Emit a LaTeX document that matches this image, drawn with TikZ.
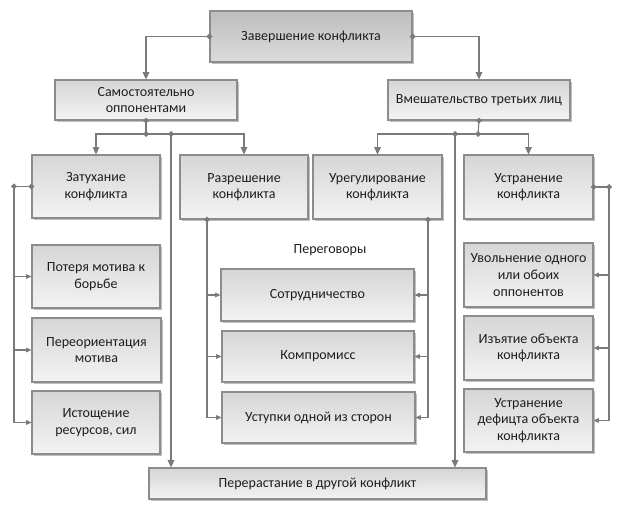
\documentclass[tikz,border=0pt]{standalone}
\usepackage{fontspec}
\setmainfont{Carlito}
\usetikzlibrary{arrows.meta,shadows}
\definecolor{lineC}{HTML}{7A7A7A}
\definecolor{edgeC}{HTML}{8C8C8C}
\definecolor{boxTop}{HTML}{D6D6D6}
\definecolor{boxBot}{HTML}{F3F3F3}
\definecolor{topTop}{HTML}{BDBDBD}
\definecolor{topBot}{HTML}{DCDCDC}
\definecolor{txt}{HTML}{1E1E1E}
\tikzset{
  box/.style={draw=edgeC, line width=0.8pt, top color=boxTop, bottom color=boxBot,
    drop shadow={shadow xshift=1.2pt, shadow yshift=-1.2pt, opacity=0.25, fill=black},
    inner sep=0pt, align=center, text=txt, font=\fontsize{10.5}{12.5}\selectfont},
  topbox/.style={box, top color=topTop, bottom color=topBot},
  conn/.style={draw=lineC, line width=0.8pt},
  arr/.style={conn, -{Triangle[length=5.5pt,width=5pt]}},
  sarr/.style={conn, -{Triangle[length=4pt,width=3.5pt]}},
  lbl/.style={inner sep=0pt, text=txt, font=\fontsize{10.5}{12.5}\selectfont}
}
\newcommand{\bx}[7]{% style, name, x1, y1, x2, y2, text
  \node[#1, minimum width={(#5-#3)*0.75pt}, minimum height={(#6-#4)*0.75pt}]
    (#2) at ({(#3+#5)/2},{(#4+#6)/2}) {#7};}
\newcommand{\dmd}[1]{\fill[lineC] (#1) +(0,3) -- +(3,0) -- +(0,-3) -- +(-3,0) -- cycle;}
\begin{document}
\begin{tikzpicture}[x=0.75pt,y=-0.75pt]
\useasboundingbox[fill=white] (0,0) rectangle (624,513);
% boxes
\bx{topbox}{top}{210}{11}{412}{62}{Завершение конфликта}
\bx{box}{samo}{55}{80}{237}{120}{Самостоятельно\\оппонентами}
\bx{box}{vm}{388}{80}{570}{120}{Вмешательство третьих лиц}
\bx{box}{zat}{32}{155}{160}{218}{Затухание\\конфликта}
\bx{box}{raz}{180}{155}{308}{219}{Разрешение\\конфликта}
\bx{box}{ureg}{313}{155}{442}{219}{Урегулирование\\конфликта}
\bx{box}{ustr}{464}{155}{593}{219}{Устранение\\конфликта}
\bx{box}{pot}{32}{245}{160}{308}{Потеря мотива к\\борьбе}
\bx{box}{pereo}{32}{318}{161}{382}{Переориентация\\мотива}
\bx{box}{ist}{32}{391}{160}{454}{Истощение\\ресурсов, сил}
\node[lbl] (neg) at (330,250) {Переговоры};
\bx{box}{sot}{221}{269}{414}{321}{Сотрудничество}
\bx{box}{kom}{222}{331}{414}{382}{Компромисс}
\bx{box}{ust}{222}{392}{415}{443}{Уступки одной из сторон}
\bx{box}{uvol}{464}{243}{593}{307}{Увольнение одного\\или обоих\\оппонентов}
\bx{box}{izy}{464}{316}{593}{380}{Изъятие объекта\\конфликта}
\bx{box}{def}{464}{389}{593}{452}{Устранение\\дефицта объекта\\конфликта}
\bx{box}{pere}{149}{468}{486}{499}{Перерастание в другой конфликт}
% junction coordinates
\coordinate (jL) at (146,134);
\coordinate (jLs) at (171,134);
\coordinate (jR) at (478,134);
\coordinate (jRs) at (455,134);
\coordinate (busL) at (14,0);
\coordinate (busM) at (207,0);
\coordinate (busN) at (428,0);
\coordinate (busR) at (609,0);
% top level
\draw[arr] (top.west) -| (samo.north);
\draw[arr] (top.east) -| (vm.north);
\dmd{top.west}\dmd{top.east}
% second level left
\draw[conn] (samo.south) -- (jL);
\draw[arr] (jL) -| (zat.north);
\draw[arr] (jL) -| (raz.north);
\draw[arr] (jLs) -- (jLs |- pere.north);
\dmd{samo.south}\dmd{jL}\dmd{jLs}
% second level right
\draw[conn] (vm.south) -- (jR);
\draw[arr] (jR) -| (ureg.north);
\draw[arr] (jR) -| (ustr.north);
\draw[arr] (jRs) -- (jRs |- pere.north);
\dmd{vm.south}\dmd{jR}\dmd{jRs}
% left bus
\draw[conn] (zat.west) -- (busL |- zat.west) -- (busL |- ist.west);
\draw[sarr] (busL |- pot.west) -- (pot.west);
\draw[sarr] (busL |- pereo.west) -- (pereo.west);
\draw[sarr] (busL |- ist.west) -- (ist.west);
\dmd{zat.west}\dmd{busL |- zat.west}
% middle left bus
\draw[conn] (busM |- raz.south) -- (busM |- ust.west);
\draw[sarr] (busM |- sot.west) -- (sot.west);
\draw[sarr] (busM |- kom.west) -- (kom.west);
\draw[sarr] (busM |- ust.west) -- (ust.west);
\dmd{busM |- raz.south}
% middle right bus
\draw[conn] (busN |- ureg.south) -- (busN |- ust.east);
\draw[sarr] (busN |- sot.east) -- (sot.east);
\draw[sarr] (busN |- kom.east) -- (kom.east);
\draw[sarr] (busN |- ust.east) -- (ust.east);
\dmd{busN |- ureg.south}
% right bus
\draw[conn] (ustr.east) -- (busR |- ustr.east) -- (busR |- def.east);
\draw[sarr] (busR |- uvol.east) -- (uvol.east);
\draw[sarr] (busR |- izy.east) -- (izy.east);
\draw[sarr] (busR |- def.east) -- (def.east);
\dmd{ustr.east}\dmd{busR |- ustr.east}
\end{tikzpicture}
\end{document}
